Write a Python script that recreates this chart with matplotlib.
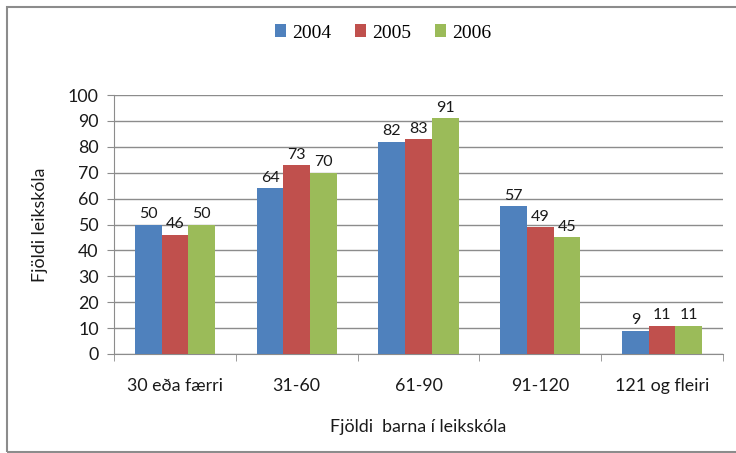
import matplotlib
matplotlib.use("Agg")
import matplotlib.pyplot as plt
from matplotlib.patches import Rectangle
import numpy as np

categories = ["30 eða færri", "31-60", "61-90", "91-120", "121 og fleiri"]
years = ["2004", "2005", "2006"]
v2004 = [50, 64, 82, 57, 9]
v2005 = [46, 73, 83, 49, 11]
v2006 = [50, 70, 91, 45, 11]
series = [v2004, v2005, v2006]
colors = ["#4F81BD", "#C0504D", "#9BBB59"]

W, H = 736, 453
fig = plt.figure(figsize=(W/100, H/100), dpi=100)
font = "Lato"
fs = 12.8

# outer border
fig.patches.append(Rectangle((7/W, 1/H), (W+5)/W, (H-8)/H, transform=fig.transFigure,
                             fill=False, edgecolor="#8c8c8c", linewidth=1.5))

ax = fig.add_axes([114/W, 1-354/H, (723-114)/W, (354-95)/H])
x = np.arange(len(categories))
bw = 0.219
for i, (vals, c, yr) in enumerate(zip(series, colors, years)):
    pos = x + (i-1)*bw
    ax.bar(pos, vals, width=bw, color=c, label=yr, zorder=3)
    for p, v in zip(pos, vals):
        ax.text(p, v+1.3, str(v), ha="center", va="bottom", fontsize=11.5,
                family=font, color="#1a1a1a", zorder=4)

ax.set_xlim(-0.5, len(categories)-0.5)
ax.set_ylim(0, 100)
ax.set_yticks(range(0, 101, 10))
ax.yaxis.grid(True, color="#8c8c8c", linewidth=1, zorder=0)
ax.set_axisbelow(True)
for s in ["top", "right"]:
    ax.spines[s].set_visible(False)
ax.spines["left"].set_color("#8c8c8c")
ax.spines["bottom"].set_color("#8c8c8c")
ax.set_xticks(x)
ax.set_xticklabels(categories, family=font, fontsize=fs, color="#1a1a1a")
ax.set_xticks(np.arange(-0.5, len(categories), 1), minor=True)
ax.tick_params(axis="x", which="major", length=0, pad=17)
ax.tick_params(axis="x", which="minor", length=5, color="#8c8c8c", direction="out")
ax.tick_params(axis="y", length=5, color="#8c8c8c", labelsize=fs, pad=6, labelcolor="#1a1a1a")
for lab in ax.get_yticklabels():
    lab.set_family(font)

ax.set_ylabel("Fjöldi leikskóla", family=font, fontsize=fs, color="#1a1a1a", labelpad=14)
ax.set_xlabel("Fjöldi  barna í leikskóla", family=font, fontsize=fs, color="#1a1a1a", labelpad=18)

fig.legend(loc="center", bbox_to_anchor=(383/W, 1-33/H), ncol=3, frameon=False,
           handlelength=0.6, handleheight=0.6, handletextpad=0.3, columnspacing=1.2,
           prop={"family": "Liberation Serif", "size": 14})

fig.savefig("out.png", dpi=100)
